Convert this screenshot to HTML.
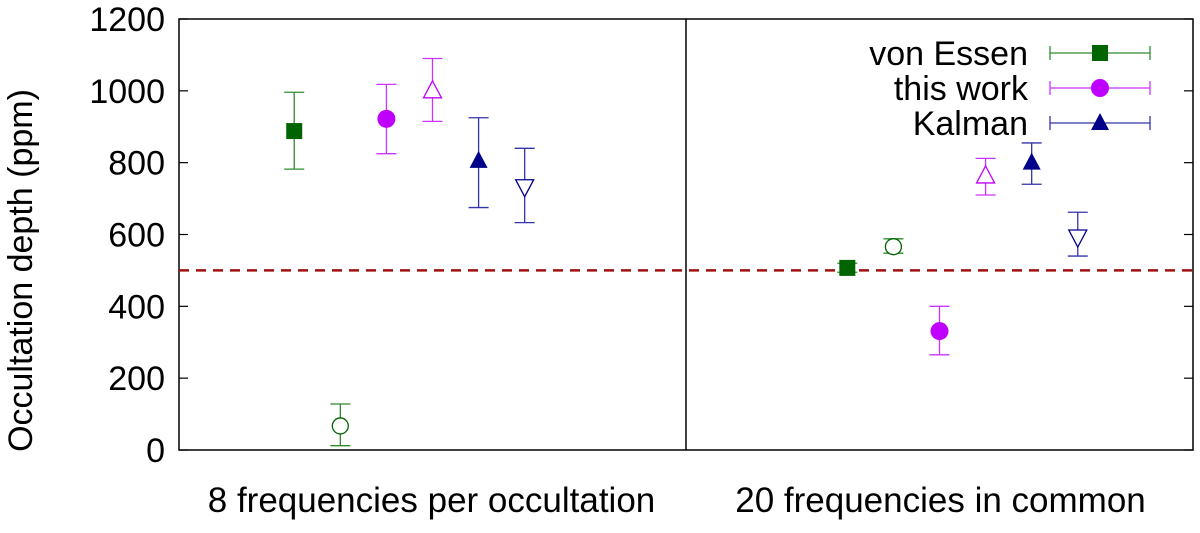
<!DOCTYPE html>
<html><head><meta charset="utf-8"><style>
body{margin:0;background:#fff}
svg text{font-family:"Liberation Sans",sans-serif;fill:#000}
</style></head><body>
<svg id="chart" width="1200" height="528" xmlns="http://www.w3.org/2000/svg"></svg>
<script>
const yTicks=[0,200,400,600,800,1000,1200];
const groupLabels=["8 frequencies per occultation","20 frequencies in common"];
const seriesNames=["von Essen","this work","Kalman"];
const xPos=[2.5,3.5,4.5,5.5,6.5,7.5,14.5,15.5,16.5,17.5,18.5,19.5];
const depth=[888,67,922,1000,805,733,507,566,331,763,800,593];
const errLow=[782,12,825,915,675,633,495,548,265,710,740,540];
const errHigh=[996,128,1018,1090,925,840,520,588,400,812,855,662];
const markerKind=["sq","oc","fc","ut","ft","dt","sq","oc","fc","ut","ft","dt"];
const seriesIdx=[0,0,1,1,2,2,0,0,1,1,2,2];
const refLine=500;
const divider=11;

const L=179,R=1193,T=19,B=450;
const X=v=>L+(v/22)*(R-L);
const Y=v=>B-(v/1200)*(B-T);
const svg=document.getElementById('chart');
const NS="http://www.w3.org/2000/svg";
const markCol=["#006400","#c000ff","#00008b"];
const barCol=["#2e8b2e","#cc33ff","#3333aa"];
function mk(tag,attrs,parent){const e=document.createElementNS(NS,tag);for(const k in attrs)e.setAttribute(k,attrs[k]);(parent||svg).appendChild(e);return e;}

let f=mk('rect',{x:L,y:T,width:R-L,height:B-T,fill:'none',stroke:'#000','stroke-width':1.5});


let dv=mk('line',{x1:X(divider),x2:X(divider),y1:T,y2:B,stroke:'#000','stroke-width':1.5});



yTicks.forEach(t=>{
  const y=Y(t);
  mk('line',{x1:L,x2:L+9,y1:y,y2:y,stroke:'#000','stroke-width':1.2});
  mk('line',{x1:R,x2:R-9,y1:y,y2:y,stroke:'#000','stroke-width':1.2});
  const tx=mk('text',{x:L-14,y:y+12,'text-anchor':'end','font-size':34});
  tx.textContent=t;
  
  
});
const yt=mk('text',{x:0,y:0,'text-anchor':'middle','font-size':34,transform:`translate(32,${(T+B)/2+36}) rotate(-90)`});
yt.textContent="Occultation depth (ppm)";



groupLabels.forEach((g,i)=>{
  const t=mk('text',{x:i?X(16.5)+1:X(5.5)-1,y:512,'text-anchor':'middle','font-size':35});
  t.textContent=g;
  
  
});

const rl=mk('line',{x1:L,x2:R,y1:Y(refLine),y2:Y(refLine),stroke:'#a01010','stroke-width':2.5,'stroke-dasharray':'10,7'});



function marker(kind,cx,cy,col,g){
  const s=9;
  if(kind==='sq')return mk('rect',{x:cx-s+1,y:cy-s+1,width:2*s-2,height:2*s-2,fill:col},g);
  if(kind==='fc')return mk('circle',{cx,cy,r:s,fill:col},g);
  if(kind==='oc')return mk('circle',{cx,cy,r:s-1,fill:'#fff',stroke:col,'stroke-width':1.3},g);
  if(kind==='ft')return mk('polygon',{points:`${cx},${cy-s-1} ${cx-s},${cy+s-2} ${cx+s},${cy+s-2}`,fill:col},g);
  if(kind==='ut')return mk('polygon',{points:`${cx},${cy-s-1} ${cx-s},${cy+s-2} ${cx+s},${cy+s-2}`,fill:'#fff',stroke:col,'stroke-width':1.3},g);
  if(kind==='dt')return mk('polygon',{points:`${cx},${cy+s+1} ${cx-s},${cy-s+2} ${cx+s},${cy-s+2}`,fill:'#fff',stroke:col,'stroke-width':1.3},g);
}
depth.forEach((d,i)=>{
  const g=mk('g',{});
  
  
  const x=X(xPos[i]),s=seriesIdx[i],bc=barCol[s];
  mk('line',{x1:x,x2:x,y1:Y(errLow[i]),y2:Y(errHigh[i]),stroke:bc,'stroke-width':1.3},g);
  [errLow[i],errHigh[i]].forEach(v=>mk('line',{x1:x-10,x2:x+10,y1:Y(v),y2:Y(v),stroke:bc,'stroke-width':1.3},g));
  marker(markerKind[i],x,Y(d),markCol[s],g);
});

const legKinds=["sq","fc","ft"];
seriesNames.forEach((n,i)=>{
  const y=53+i*35;
  const g=mk('g',{});
  
  
  const t=mk('text',{x:1028,y:y+12,'text-anchor':'end','font-size':34},g);
  t.textContent=n;
  mk('line',{x1:1050,x2:1150,y1:y,y2:y,stroke:barCol[i],'stroke-width':1.3},g);
  [1050,1150].forEach(xx=>mk('line',{x1:xx,x2:xx,y1:y-7,y2:y+7,stroke:barCol[i],'stroke-width':1.3},g));
  marker(legKinds[i],1100,y,markCol[i],g);
});
</script>
</body></html>
